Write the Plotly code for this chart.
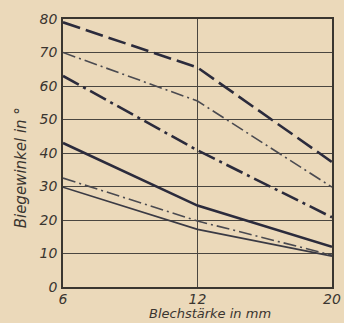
import plotly.graph_objects as go

thickness = ["6", "12", "20"]
tick_labels_x = ["6", "12", "20"]
y_ticks = [0, 10, 20, 30, 40, 50, 60, 70, 80]

s1 = [79, 65.5, 37.3]
s2 = [70, 55.5, 29.8]
s3 = [63, 40.8, 20.8]
s4 = [43, 24.3, 12]
s5 = [32.5, 19.7, 9.5]
s6 = [29.8, 17.2, 9.2]

series = [
    (s1, dict(color="#2b2b3c", width=2.6, dash="18px,6px")),
    (s2, dict(color="#4a4a50", width=1.6, dash="13px,4px,2px,4px")),
    (s3, dict(color="#2b2b3c", width=2.6, dash="18px,5px,3px,5px")),
    (s4, dict(color="#2b2b3c", width=2.6)),
    (s5, dict(color="#4a4a50", width=1.6, dash="13px,4px,2px,4px")),
    (s6, dict(color="#3a3a44", width=1.6)),
]

bg = "#ebd9ba"
fnt = dict(family="DejaVu Sans", color="#3a3530", style="italic")

fig = go.Figure()
for vals, ln in series:
    fig.add_trace(go.Scatter(x=thickness, y=vals, mode="lines", line=ln,
                             showlegend=False, hoverinfo="skip"))

fig.update_layout(
    width=344, height=323, autosize=False,
    margin=dict(l=63, r=12, t=19, b=36, autoexpand=False),
    paper_bgcolor=bg, plot_bgcolor=bg,
    showlegend=False,
)
fig.update_xaxes(
    type="category", categoryorder="array", categoryarray=thickness,
    range=[0, 2], tickvals=thickness, ticktext=tick_labels_x,
    showgrid=True, gridcolor="#4a4640", gridwidth=1,
    showline=True, linecolor="#3a3630", linewidth=1.5, mirror=True,
    ticks="", tickfont=dict(size=14, **fnt), ticklabelstandoff=-2,
    zeroline=False, automargin=False,
)
fig.update_yaxes(
    range=[0, 80], tickvals=y_ticks,
    showgrid=True, gridcolor="#4a4640", gridwidth=1,
    showline=True, linecolor="#3a3630", linewidth=1.5, mirror=True,
    ticks="", tickfont=dict(size=14, **fnt), ticklabelstandoff=1,
    zeroline=False, automargin=False,
)
fig.add_annotation(text="Biegewinkel in °", xref="paper", yref="paper",
                   x=-0.155, y=0.444, textangle=-90, showarrow=False,
                   font=dict(size=15, **fnt), xanchor="center", yanchor="middle")
fig.add_annotation(text="Blechstärke in mm", xref="paper", yref="paper",
                   x=0.546, y=-0.1, showarrow=False,
                   font=dict(size=13, **fnt), xanchor="center", yanchor="middle")

fig.write_html(
    "out.html",
    config={"displayModeBar": False, "responsive": False},
    post_script=("document.body.style.margin='0';"
                 "document.body.style.overflow='hidden';"
                 "document.documentElement.style.overflow='hidden';"
                 "document.body.style.background='%s';" % bg),
)
